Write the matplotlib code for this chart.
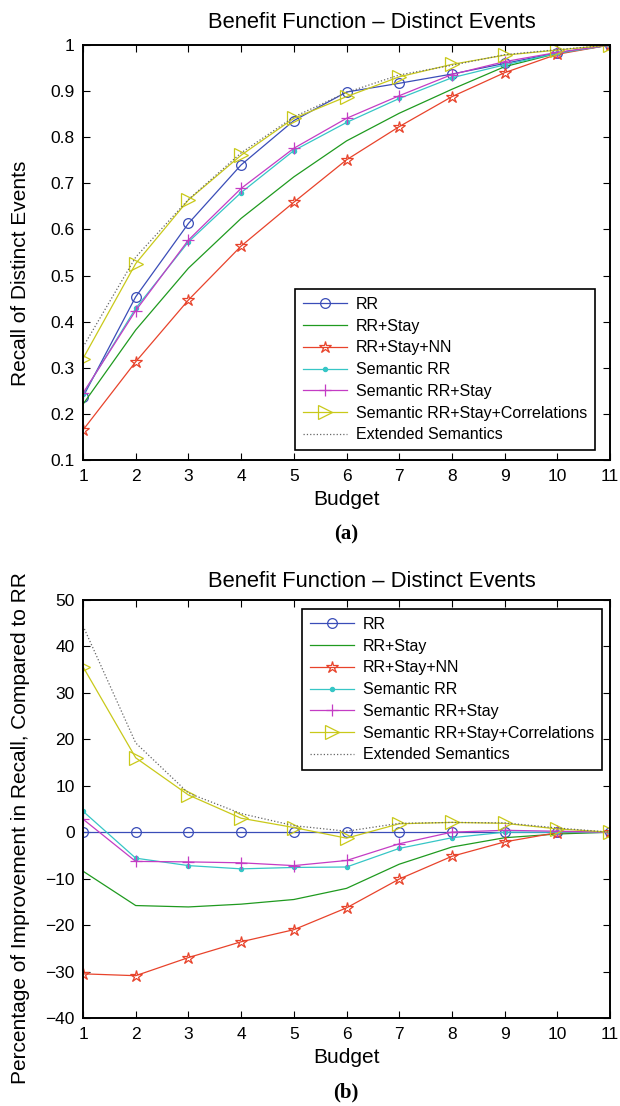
import matplotlib
matplotlib.use("Agg")
import matplotlib.pyplot as plt

plt.rcParams['font.family'] = ['Liberation Sans', 'DejaVu Sans']

budget = list(range(1, 12))

# Recall of distinct events per strategy
recall_rr = [0.237, 0.454, 0.613, 0.740, 0.836, 0.898, 0.917, 0.937, 0.960, 0.983, 1.0]
recall_stay = [0.221, 0.382, 0.516, 0.624, 0.714, 0.792, 0.852, 0.904, 0.953, 0.982, 1.0]
recall_stay_nn = [0.165, 0.313, 0.447, 0.564, 0.659, 0.751, 0.823, 0.888, 0.940, 0.980, 1.0]
recall_sem = [0.243, 0.429, 0.573, 0.680, 0.771, 0.832, 0.884, 0.929, 0.957, 0.982, 1.0]
recall_sem_stay = [0.245, 0.424, 0.577, 0.689, 0.776, 0.841, 0.890, 0.936, 0.964, 0.984, 1.0]
recall_sem_corr = [0.320, 0.526, 0.664, 0.761, 0.841, 0.888, 0.931, 0.958, 0.978, 0.989, 1.0]
recall_ext = [0.345, 0.540, 0.665, 0.766, 0.844, 0.897, 0.935, 0.956, 0.979, 0.990, 1.0]

# Improvement in recall relative to RR (%)
impr_rr = [0, 0, 0, 0, 0, 0, 0, 0, 0, 0, 0]
impr_stay = [-8.4, -15.8, -16.1, -15.5, -14.5, -12.1, -6.9, -3.2, -1.2, -0.4, 0]
impr_stay_nn = [-30.5, -30.9, -27.0, -23.6, -21.0, -16.3, -10.1, -5.2, -2.1, -0.1, 0]
impr_sem = [4.5, -5.6, -7.2, -7.9, -7.6, -7.5, -3.5, -1.2, 0.0, 0.0, 0]
impr_sem_stay = [2.8, -6.3, -6.4, -6.6, -7.2, -6.1, -2.5, 0.0, 0.4, 0.2, 0]
impr_sem_corr = [35.6, 16.0, 8.0, 3.0, 1.0, -1.3, 1.8, 2.1, 1.9, 0.7, 0]
impr_ext = [44.4, 19.2, 8.4, 4.0, 1.4, 0.2, 1.9, 2.1, 2.0, 0.9, 0]

labels = ["RR", "RR+Stay", "RR+Stay+NN", "Semantic RR", "Semantic RR+Stay",
          "Semantic RR+Stay+Correlations", "Extended Semantics"]

styles = [
    dict(color="#3a4db8", marker="o", ms=7, mfc="none", ls="-"),
    dict(color="#1f9a1f", marker=None, ls="-"),
    dict(color="#e8432b", marker="*", ms=9, mfc="none", ls="-"),
    dict(color="#36c6c6", marker=".", ms=6, ls="-"),
    dict(color="#c43cc4", marker="+", ms=9, ls="-"),
    dict(color="#c9c91a", marker=">", ms=10, mfc="none", ls="-"),
    dict(color="#666666", marker=None, ls=":"),
]

TICK_FS = 12.5
LABEL_FS = 15
TITLE_FS = 15.8
LEGEND_FS = 11.5


def draw(ax, series, ylim, yticks, ylabel, legend_anchor, title_pad, ylabel_y):
    for vals, lab, st in zip(series, labels, styles):
        ax.plot(budget, vals, label=lab, lw=0.9, mew=0.9, **st)
    ax.set_xlim(1, 11)
    ax.set_ylim(*ylim)
    ax.set_xticks(budget)
    ax.set_yticks(yticks)
    ax.tick_params(direction="in", top=True, right=True, labelsize=TICK_FS,
                   length=5, width=0.8)
    ax.tick_params(axis="x", pad=6.5)
    ax.tick_params(axis="y", pad=6)
    for sp in ax.spines.values():
        sp.set_linewidth(1.4)
    ax.set_title("Benefit Function \u2013 Distinct Events", fontsize=TITLE_FS,
                 x=0.548, pad=title_pad)
    ax.set_xlabel("Budget", fontsize=LABEL_FS)
    ax.xaxis.set_label_coords(0.5, -0.073)
    ax.set_ylabel(ylabel, fontsize=LABEL_FS)
    ax.yaxis.set_label_coords(-0.100, ylabel_y)
    leg = ax.legend(loc="upper right", bbox_to_anchor=legend_anchor,
                    borderaxespad=0, fontsize=LEGEND_FS, handlelength=2.75,
                    labelspacing=0.42, fancybox=False, framealpha=1,
                    edgecolor="black", numpoints=1, borderpad=0.5,
                    handletextpad=0.55)
    leg.get_frame().set_linewidth(1.2)


fig = plt.figure(figsize=(6.2, 11.06), dpi=100)

ax1 = fig.add_axes([0.1339, 0.5841, 0.85, 0.3752])
draw(ax1, [recall_rr, recall_stay, recall_stay_nn, recall_sem, recall_sem_stay,
           recall_sem_corr, recall_ext],
     (0.1, 1.0), [0.1 * i for i in range(1, 11)],
     "Recall of Distinct Events", (0.9715, 0.412), 12, 0.45)
ax1.set_yticklabels(["0.1", "0.2", "0.3", "0.4", "0.5", "0.6", "0.7", "0.8", "0.9", "1"])

ax2 = fig.add_axes([0.1339, 0.0796, 0.85, 0.378])
draw(ax2, [impr_rr, impr_stay, impr_stay_nn, impr_sem, impr_sem_stay,
           impr_sem_corr, impr_ext],
     (-40, 50), list(range(-40, 51, 10)),
     "Percentage of Improvement in Recall, Compared to RR", (0.985, 0.978), 9.5, 0.455)

fig.text(346 / 620, 1 - 534 / 1106, "(a)", ha="center", va="center",
         fontsize=15, fontweight="bold", family="Liberation Serif")
fig.text(346 / 620, 1 - 1092 / 1106, "(b)", ha="center", va="center",
         fontsize=15, fontweight="bold", family="Liberation Serif")

fig.savefig("out.png", dpi=100)
